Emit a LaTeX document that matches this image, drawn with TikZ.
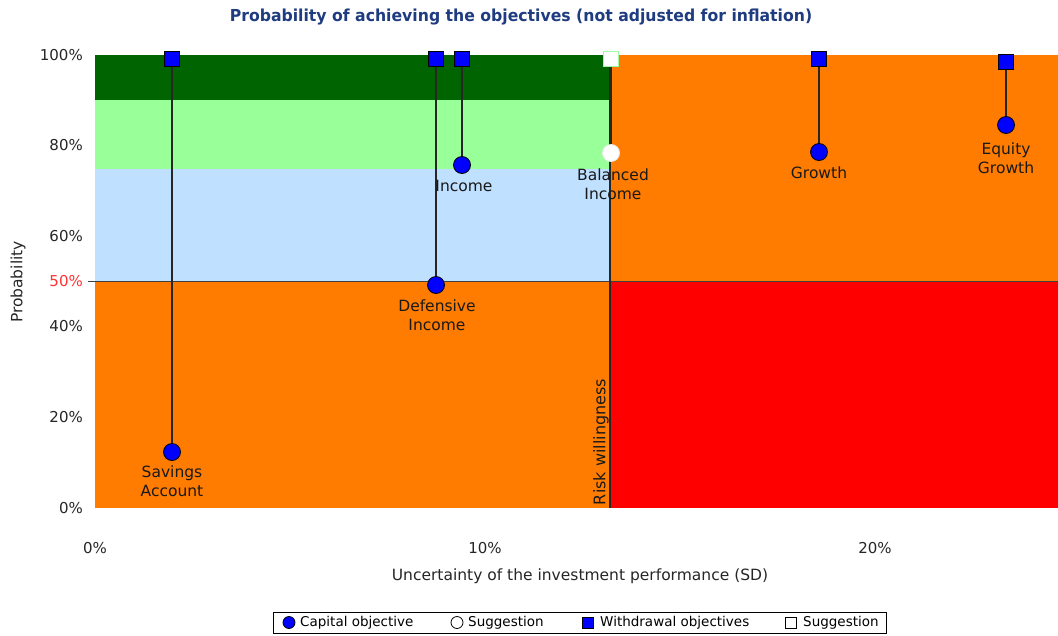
\documentclass[tikz,border=0pt]{standalone}
\usepackage{fontspec}
\usepackage{graphicx}
\setmainfont{DejaVu Sans}
\definecolor{zonedkgreen}{RGB}{0,100,0}
\definecolor{zoneltgreen}{RGB}{153,255,153}
\definecolor{zoneblue}{RGB}{192,224,255}
\definecolor{zoneorange}{RGB}{255,124,0}
\definecolor{zonered}{RGB}{255,0,0}
\definecolor{titleblue}{RGB}{31,60,128}
\definecolor{sugedge}{RGB}{160,250,160}
\tikzset{
  wsq/.style={rectangle, minimum size=15pt, inner sep=0pt, fill=blue, draw=black, line width=1pt},
  capdot/.style={circle, minimum size=17pt, inner sep=0pt, fill=blue, draw=black, line width=0.8pt},
  sugsq/.style={rectangle, minimum size=15pt, inner sep=0pt, fill=white, draw=sugedge, line width=1.2pt},
  sugdot/.style={circle, minimum size=17pt, inner sep=0pt, fill=white, draw=white!85!gray, line width=0.8pt},
  stem/.style={draw=black!85, line width=1.3pt},
  ptlabel/.style={font=\fontsize{15.5}{19}\selectfont, align=center, inner sep=0pt, text=black!90},
  ytick/.style={font=\fontsize{15}{18}\selectfont, anchor=east, inner sep=0pt, text=black!85},
  xtick/.style={font=\fontsize{15}{18}\selectfont, inner sep=0pt, text=black!85},
  legtext/.style={font=\fontsize{13.5}{15}\selectfont, anchor=west, inner sep=0pt},
}
\begin{document}
\begin{tikzpicture}[x=1pt,y=-1pt]
\useasboundingbox (0,0) rectangle (1058,635);
\fill[white] (0,0) rectangle (1058,635);

% coloured zones of the chart
\fill[zoneorange] (95,55) rectangle (1058,508);
\fill[zonered] (610,281) rectangle (1058,508);
\fill[zoneblue] (95,169) rectangle (610,281);
\fill[zoneltgreen] (95,100) rectangle (610,169);
\fill[zonedkgreen] (95,55) rectangle (610,100);

% 50% threshold line and risk willingness line
\coordinate (half-l) at (88,281);
\coordinate (half-r) at (1058,281);
\draw[black!75, line width=1pt] (half-l) -- (half-r);
\coordinate (risk-t) at (610,55);
\coordinate (risk-b) at (610,508);
\draw[black!85, line width=1.3pt] (risk-t) -- (risk-b);
\node[rotate=90, font=\fontsize{16}{18}\selectfont, inner sep=0pt, text=black!90] (risklbl) at (601,442) {Risk willingness};

% title
\node[font=\bfseries\fontsize{16.5}{20}\selectfont, text=titleblue, inner sep=0pt] (title) at (521,17) {\scalebox{0.95}[1]{Probability of achieving the objectives (not adjusted for inflation)}};

% y axis
\node[ytick] (y100) at (83,55) {100\%};
\node[ytick] (y80) at (83,145) {80\%};
\node[ytick] (y60) at (83,236) {60\%};
\node[ytick, text=red!80] (y50) at (83,281) {50\%};
\node[ytick] (y40) at (83,326) {40\%};
\node[ytick] (y20) at (83,417) {20\%};
\node[ytick] (y0) at (83,508) {0\%};
\node[rotate=90, font=\fontsize{15.5}{18}\selectfont, inner sep=0pt, text=black!85] (ytitle) at (18,282) {Probability};

% x axis
\node[xtick] (x0) at (95,548) {0\%};
\node[xtick] (x10) at (485,548) {10\%};
\node[xtick] (x20) at (875,548) {20\%};
\node[font=\fontsize{15.5}{18}\selectfont, inner sep=0pt, text=black!85] (xtitle) at (580,576) {Uncertainty of the investment performance (SD)};

% products: withdrawal objective (square) and capital objective (circle)
\node[wsq] (sa-w) at (172,59) {};
\node[capdot] (sa-c) at (172,452) {};
\node[wsq] (di-w) at (436,59) {};
\node[capdot] (di-c) at (436,285) {};
\node[wsq] (in-w) at (462,59) {};
\node[capdot] (in-c) at (462,165) {};
\node[sugsq] (bi-w) at (611,59) {};
\node[sugdot] (bi-c) at (611,153) {};
\node[wsq] (gr-w) at (819,59) {};
\node[capdot] (gr-c) at (819,152) {};
\node[wsq] (eg-w) at (1006,62) {};
\node[capdot] (eg-c) at (1006,125) {};

\draw[stem] (sa-w) -- (sa-c);
\draw[stem] (di-w) -- (di-c);
\draw[stem] (in-w) -- (in-c);
\draw[stem] (bi-w) -- (bi-c);
\draw[stem] (gr-w) -- (gr-c);
\draw[stem] (eg-w) -- (eg-c);

\node[ptlabel] (sa-l) at (172,481.5) {Savings\\Account};
\node[ptlabel] (di-l) at (437,315.5) {Defensive\\Income};
\node[ptlabel] (in-l) at (464,186) {Income};
\node[ptlabel] (bi-l) at (613,184) {Balanced\\Income};
\node[ptlabel] (gr-l) at (819,173) {Growth};
\node[ptlabel] (eg-l) at (1006,158) {Equity\\Growth};

% legend
\node[draw=black, line width=1pt, minimum width=613pt, minimum height=21pt, inner sep=0pt] (legend) at (579.5,622.5) {};
\node[circle, minimum size=12pt, inner sep=0pt, fill=blue, draw=black, line width=0.8pt] (lg1m) at (289,622.5) {};
\node[legtext] (lg1t) at (300,622.5) {Capital objective};
\node[circle, minimum size=12pt, inner sep=0pt, fill=white, draw=black, line width=0.8pt] (lg2m) at (457,622.5) {};
\node[legtext] (lg2t) at (468,622.5) {Suggestion};
\node[rectangle, minimum size=11pt, inner sep=0pt, fill=blue, draw=black, line width=0.8pt] (lg3m) at (588,622.5) {};
\node[legtext] (lg3t) at (600,622.5) {Withdrawal objectives};
\node[rectangle, minimum size=11pt, inner sep=0pt, fill=white, draw=black, line width=0.8pt] (lg4m) at (791,622.5) {};
\node[legtext] (lg4t) at (803,622.5) {Suggestion};
\end{tikzpicture}
\end{document}
